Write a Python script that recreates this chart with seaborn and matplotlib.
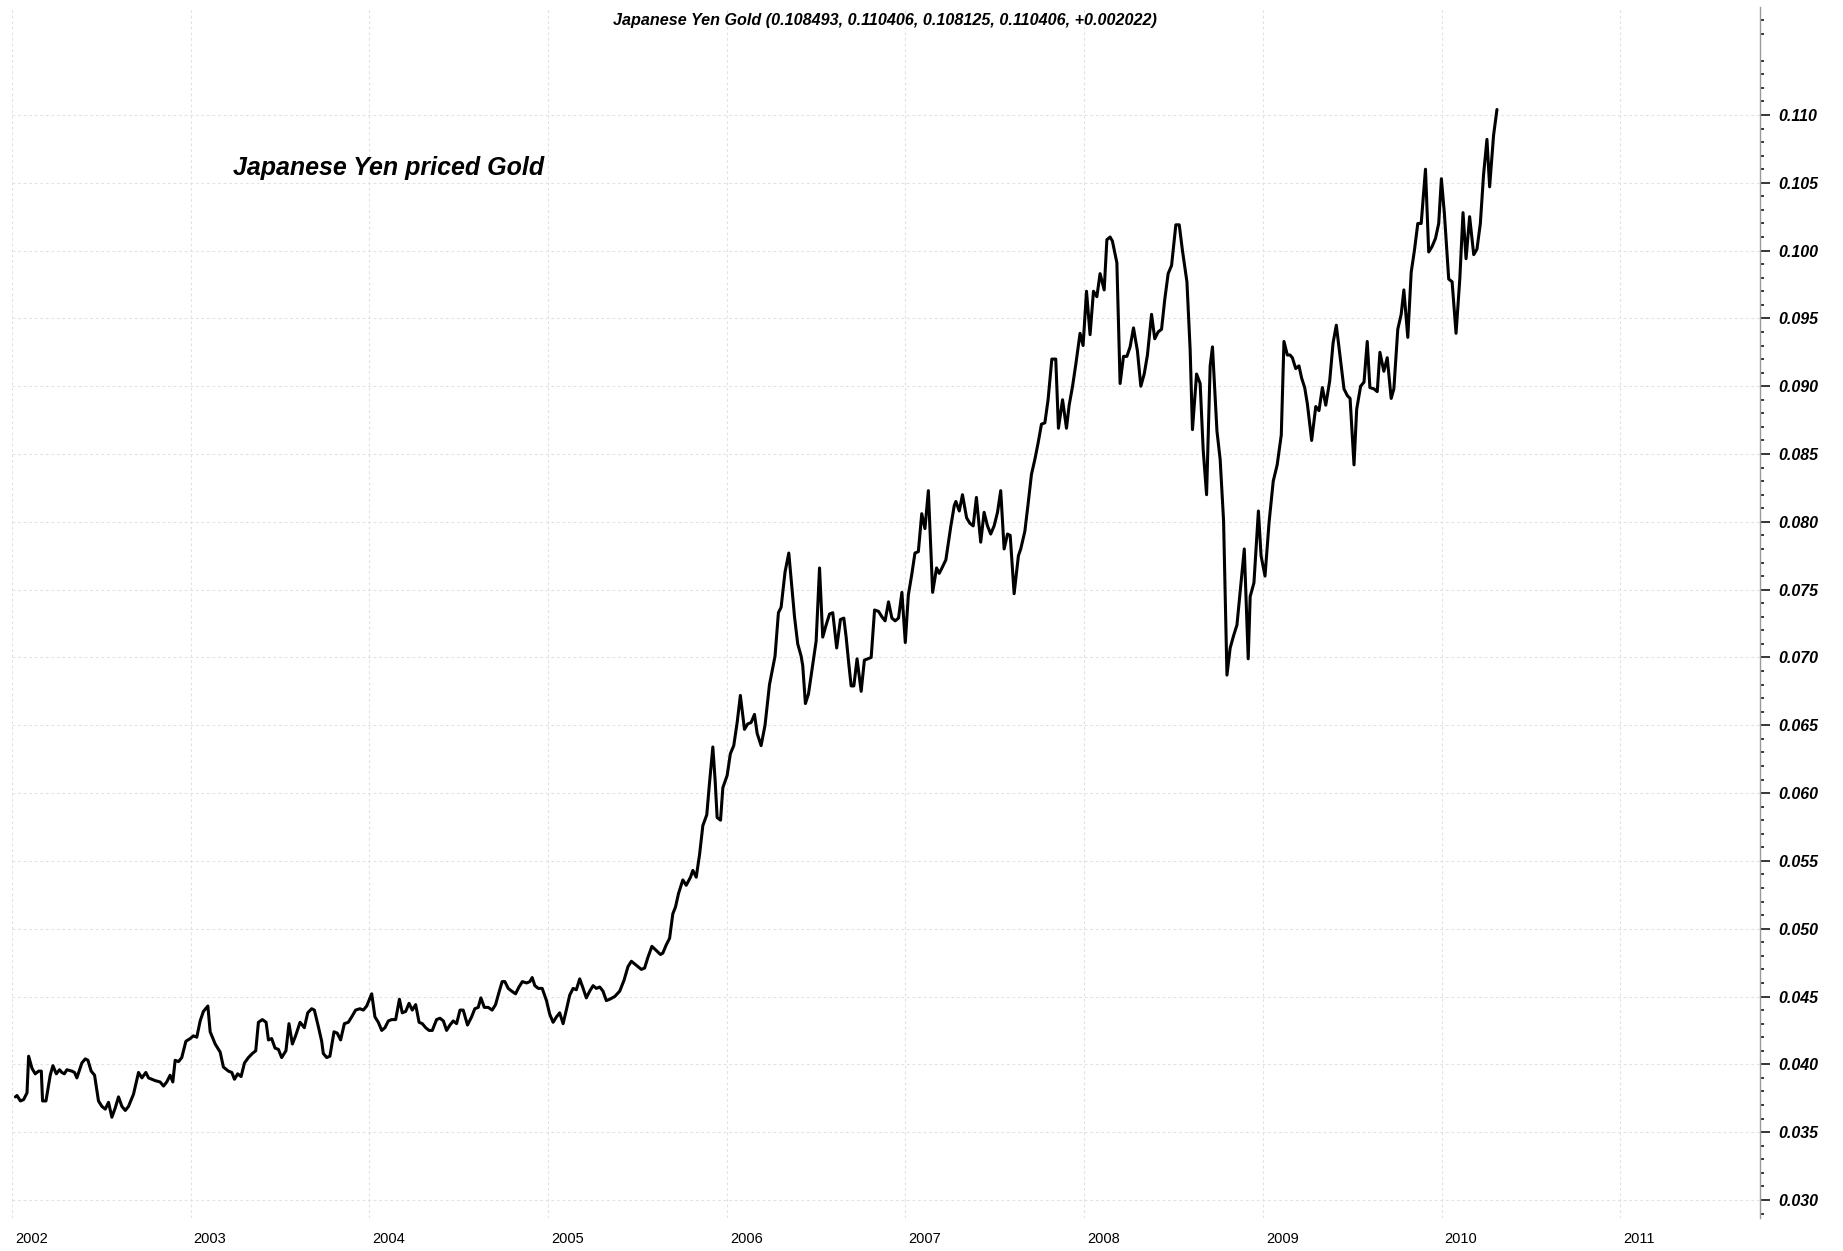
import numpy as np
import pandas as pd
import seaborn as sns
import matplotlib.pyplot as plt
from matplotlib import transforms
from matplotlib.ticker import FixedLocator

# weekly close, decimal year vs price
years_a = [2002.019, 2002.028, 2002.047, 2002.065, 2002.084, 2002.093, 2002.112, 2002.130, 2002.149, 2002.164,
           2002.171, 2002.190, 2002.214, 2002.229, 2002.248, 2002.266, 2002.279, 2002.293, 2002.307, 2002.335,
           2002.350, 2002.363, 2002.391, 2002.410, 2002.425, 2002.443, 2002.462, 2002.484, 2002.503, 2002.522,
           2002.540, 2002.559, 2002.578, 2002.596, 2002.615, 2002.634, 2002.652, 2002.680, 2002.708, 2002.727,
           2002.749, 2002.764, 2002.801, 2002.829, 2002.848, 2002.866, 2002.885, 2002.900, 2002.913, 2002.932,
           2002.950, 2002.973, 2002.997, 2003.015, 2003.034, 2003.053, 2003.071, 2003.096, 2003.109, 2003.137,
           2003.165, 2003.183, 2003.211, 2003.230, 2003.245, 2003.263, 2003.282, 2003.301, 2003.323, 2003.345,
           2003.364, 2003.379, 2003.401, 2003.422, 2003.435, 2003.453, 2003.472, 2003.491, 2003.509, 2003.533,
           2003.550, 2003.569, 2003.587, 2003.612, 2003.636, 2003.655, 2003.677, 2003.692, 2003.714, 2003.733,
           2003.742, 2003.761, 2003.779, 2003.802, 2003.820, 2003.839]
prices_a = [0.0376, 0.0377, 0.0373, 0.0374, 0.0379, 0.0406, 0.0397, 0.0393, 0.0395, 0.0395,
            0.0373, 0.0373, 0.0392, 0.0399, 0.0393, 0.0396, 0.0394, 0.0393, 0.0396, 0.0395,
            0.0394, 0.0390, 0.0401, 0.0404, 0.0403, 0.0395, 0.0392, 0.0373, 0.0369, 0.0367,
            0.0372, 0.0361, 0.0368, 0.0376, 0.0369, 0.0366, 0.0369, 0.0378, 0.0394, 0.0390,
            0.0394, 0.0390, 0.0388, 0.0387, 0.0384, 0.0387, 0.0392, 0.0387, 0.0403, 0.0402,
            0.0405, 0.0417, 0.0419, 0.0421, 0.0420, 0.0432, 0.0439, 0.0443, 0.0424, 0.0415,
            0.0409, 0.0398, 0.0395, 0.0394, 0.0389, 0.0393, 0.0391, 0.0401, 0.0405, 0.0408,
            0.0410, 0.0431, 0.0433, 0.0431, 0.0418, 0.0419, 0.0412, 0.0411, 0.0405, 0.0410,
            0.0430, 0.0415, 0.0421, 0.0431, 0.0427, 0.0438, 0.0441, 0.0440, 0.0428, 0.0417,
            0.0408, 0.0405, 0.0406, 0.0424, 0.0423, 0.0418]

years_b = [2003.860, 2003.882, 2003.901, 2003.923, 2003.947, 2003.966, 2003.985,
           2004.013, 2004.031, 2004.050, 2004.069, 2004.087, 2004.106, 2004.125, 2004.147, 2004.168, 2004.184,
           2004.203, 2004.222, 2004.240, 2004.259, 2004.278, 2004.296, 2004.315, 2004.334, 2004.352, 2004.376,
           2004.395, 2004.414, 2004.432, 2004.451, 2004.469, 2004.488, 2004.507, 2004.525, 2004.549, 2004.572,
           2004.590, 2004.609, 2004.624, 2004.643, 2004.665, 2004.687, 2004.706, 2004.725, 2004.743, 2004.758,
           2004.777, 2004.796, 2004.818, 2004.837, 2004.856, 2004.880, 2004.898, 2004.911, 2004.926, 2004.945,
           2004.967, 2004.991,
           2005.009, 2005.028, 2005.047, 2005.065, 2005.084, 2005.102, 2005.121, 2005.140, 2005.158, 2005.177,
           2005.196, 2005.214, 2005.233, 2005.252, 2005.270, 2005.289, 2005.307, 2005.326, 2005.345, 2005.373,
           2005.401, 2005.425, 2005.447, 2005.466, 2005.494]
prices_b = [0.0430, 0.0431, 0.0435, 0.0440, 0.0441, 0.0440, 0.0443,
            0.0452, 0.0435, 0.0431, 0.0425, 0.0427, 0.0432, 0.0433, 0.0433, 0.0448, 0.0438,
            0.0439, 0.0445, 0.0440, 0.0444, 0.0431, 0.0430, 0.0427, 0.0425, 0.0425, 0.0433,
            0.0434, 0.0432, 0.0425, 0.0429, 0.0432, 0.0430, 0.0440, 0.0440, 0.0429, 0.0435,
            0.0441, 0.0442, 0.0449, 0.0442, 0.0442, 0.0440, 0.0444, 0.0453, 0.0461, 0.0461,
            0.0456, 0.0454, 0.0452, 0.0457, 0.0461, 0.0460, 0.0461, 0.0464, 0.0458, 0.0456,
            0.0456, 0.0447,
            0.0437, 0.0431, 0.0435, 0.0438, 0.0430, 0.0440, 0.0451, 0.0456, 0.0455, 0.0463,
            0.0456, 0.0449, 0.0454, 0.0458, 0.0456, 0.0457, 0.0454, 0.0447, 0.0448, 0.0450,
            0.0454, 0.0462, 0.0472, 0.0476, 0.0473]

years_c = [2005.522, 2005.540, 2005.559, 2005.581, 2005.605, 2005.629, 2005.642, 2005.661, 2005.680, 2005.698,
           2005.713, 2005.730, 2005.754, 2005.773, 2005.797, 2005.810, 2005.829, 2005.848, 2005.866, 2005.888,
           2005.903, 2005.922, 2005.935, 2005.946, 2005.965, 2005.978,
           2006.002, 2006.020, 2006.039, 2006.058, 2006.076, 2006.099, 2006.117, 2006.136, 2006.155, 2006.170,
           2006.192, 2006.214, 2006.239, 2006.257, 2006.270, 2006.289, 2006.304, 2006.326, 2006.347]
prices_c = [0.0470, 0.0471, 0.0479, 0.0487, 0.0484, 0.0481, 0.0482, 0.0488, 0.0493, 0.0511,
            0.0516, 0.0526, 0.0536, 0.0532, 0.0538, 0.0543, 0.0538, 0.0555, 0.0576, 0.0584,
            0.0607, 0.0634, 0.0609, 0.0582, 0.0580, 0.0604,
            0.0613, 0.0629, 0.0635, 0.0652, 0.0672, 0.0647, 0.0651, 0.0652, 0.0658, 0.0644,
            0.0635, 0.0650, 0.0680, 0.0692, 0.0701, 0.0733, 0.0737, 0.0763, 0.0777]

years_d = [2006.379, 2006.397, 2006.416, 2006.425, 2006.440, 2006.457, 2006.476, 2006.500, 2006.519, 2006.537,
           2006.556, 2006.575, 2006.593, 2006.615, 2006.636, 2006.655, 2006.668, 2006.683, 2006.696, 2006.711,
           2006.729, 2006.752, 2006.770, 2006.789, 2006.808, 2006.827, 2006.849, 2006.868, 2006.886, 2006.905,
           2006.924, 2006.942, 2006.961, 2006.980, 2006.999,
           2007.016, 2007.035, 2007.053, 2007.072, 2007.091, 2007.109, 2007.128, 2007.152, 2007.174, 2007.189,
           2007.208, 2007.226]
prices_d = [0.0730, 0.0710, 0.0701, 0.0694, 0.0666, 0.0673, 0.0690, 0.0712, 0.0766, 0.0715,
            0.0724, 0.0732, 0.0733, 0.0707, 0.0728, 0.0729, 0.0715, 0.0695, 0.0679, 0.0679,
            0.0699, 0.0675, 0.0698, 0.0699, 0.0700, 0.0735, 0.0734, 0.0730, 0.0727, 0.0741,
            0.0729, 0.0727, 0.0729, 0.0748, 0.0711,
            0.0746, 0.0761, 0.0777, 0.0778, 0.0806, 0.0795, 0.0823, 0.0748, 0.0766, 0.0762,
            0.0767, 0.0772]

years_e = [2007.254, 2007.273, 2007.282, 2007.301, 2007.319, 2007.342, 2007.360, 2007.379, 2007.397, 2007.421,
           2007.440, 2007.459, 2007.477, 2007.496, 2007.515, 2007.533, 2007.552, 2007.571, 2007.586, 2007.608,
           2007.632, 2007.645, 2007.668, 2007.686, 2007.705, 2007.724, 2007.742, 2007.761, 2007.780, 2007.798,
           2007.819, 2007.841, 2007.856, 2007.879, 2007.901, 2007.916, 2007.935, 2007.953, 2007.977, 2007.994,
           2008.013, 2008.033, 2008.052, 2008.071, 2008.089, 2008.112, 2008.127, 2008.145, 2008.158, 2008.183,
           2008.201, 2008.220, 2008.239, 2008.257, 2008.276, 2008.298, 2008.317, 2008.336, 2008.354, 2008.377,
           2008.395, 2008.414, 2008.433, 2008.451, 2008.470, 2008.489, 2008.513, 2008.532, 2008.550, 2008.575,
           2008.593, 2008.606, 2008.629, 2008.649, 2008.666, 2008.685, 2008.705, 2008.718, 2008.743, 2008.761,
           2008.780, 2008.799, 2008.817, 2008.836, 2008.855, 2008.877, 2008.896, 2008.918, 2008.929]
prices_e = [0.0797, 0.0812, 0.0815, 0.0808, 0.0820, 0.0803, 0.0799, 0.0797, 0.0818, 0.0785,
            0.0807, 0.0797, 0.0791, 0.0797, 0.0807, 0.0823, 0.0780, 0.0791, 0.0790, 0.0747,
            0.0775, 0.0780, 0.0793, 0.0813, 0.0835, 0.0846, 0.0858, 0.0872, 0.0873, 0.0890,
            0.0920, 0.0920, 0.0869, 0.0890, 0.0869, 0.0886, 0.0900, 0.0916, 0.0939, 0.0930,
            0.0970, 0.0938, 0.0970, 0.0966, 0.0983, 0.0971, 0.1008, 0.1010, 0.1007, 0.0991,
            0.0902, 0.0922, 0.0922, 0.0929, 0.0943, 0.0926, 0.0900, 0.0909, 0.0923, 0.0953,
            0.0935, 0.0940, 0.0942, 0.0964, 0.0983, 0.0989, 0.1019, 0.1019, 0.1000, 0.0977,
            0.0927, 0.0868, 0.0909, 0.0902, 0.0853, 0.0820, 0.0915, 0.0929, 0.0867, 0.0846,
            0.0801, 0.0687, 0.0707, 0.0716, 0.0724, 0.0754, 0.0780, 0.0699, 0.0745]

years_f = [2008.950, 2008.975, 2008.990,
           2009.012, 2009.035, 2009.058, 2009.080, 2009.103, 2009.118, 2009.137, 2009.152, 2009.165, 2009.184,
           2009.202, 2009.217, 2009.234, 2009.249, 2009.273, 2009.296, 2009.314, 2009.333, 2009.352, 2009.374,
           2009.393, 2009.411, 2009.430, 2009.454, 2009.473, 2009.488, 2009.510, 2009.525, 2009.547, 2009.566,
           2009.584, 2009.599, 2009.622, 2009.640, 2009.655, 2009.677, 2009.696, 2009.718, 2009.733, 2009.755,
           2009.774, 2009.789, 2009.811, 2009.830, 2009.848, 2009.867, 2009.886, 2009.910, 2009.928, 2009.947,
           2009.966, 2009.984, 2009.999,
           2010.016, 2010.040, 2010.059, 2010.081, 2010.102, 2010.120, 2010.137, 2010.157, 2010.180, 2010.198,
           2010.217, 2010.235, 2010.254, 2010.269, 2010.291, 2010.310]
prices_f = [0.0755, 0.0808, 0.0775,
            0.0760, 0.0800, 0.0830, 0.0842, 0.0864, 0.0933, 0.0923, 0.0923, 0.0921, 0.0913,
            0.0915, 0.0906, 0.0899, 0.0887, 0.0860, 0.0885, 0.0882, 0.0899, 0.0886, 0.0904,
            0.0932, 0.0945, 0.0924, 0.0898, 0.0893, 0.0891, 0.0842, 0.0883, 0.0900, 0.0903,
            0.0933, 0.0899, 0.0898, 0.0896, 0.0925, 0.0911, 0.0921, 0.0891, 0.0898, 0.0942,
            0.0953, 0.0971, 0.0936, 0.0984, 0.1000, 0.1020, 0.1020, 0.1060, 0.0999, 0.1003,
            0.1009, 0.1020, 0.1053,
            0.1027, 0.0979, 0.0977, 0.0939, 0.0979, 0.1028, 0.0994, 0.1025, 0.0997, 0.1001,
            0.1020, 0.1056, 0.1082, 0.1047, 0.1085, 0.1104]

year_labels = [2002, 2003, 2004, 2005, 2006, 2007, 2008, 2009, 2010, 2011]
y_major = [0.030, 0.035, 0.040, 0.045, 0.050, 0.055, 0.060, 0.065, 0.070,
           0.075, 0.080, 0.085, 0.090, 0.095, 0.100, 0.105, 0.110]

title = "Japanese Yen Gold (0.108493, 0.110406, 0.108125, 0.110406, +0.002022)"
note = "Japanese Yen priced Gold"

years = years_a + years_b + years_c + years_d + years_e + years_f
prices = prices_a + prices_b + prices_c + prices_d + prices_e + prices_f
df = pd.DataFrame({"year": years, "price": prices})

sns.set_style("white")
plt.rcParams["font.family"] = ["Liberation Sans", "DejaVu Sans"]
plt.rcParams["text.color"] = "black"
plt.rcParams["xtick.color"] = "black"
plt.rcParams["ytick.color"] = "black"

W, H = 1843, 1251
fig = plt.figure(figsize=(W / 100, H / 100), dpi=100)
ax = fig.add_axes([12 / W, 33 / H, 1748 / W, 1211 / H])

sns.lineplot(data=df, x="year", y="price", ax=ax, color="black", linewidth=2.2,
             estimator=None, sort=False)

ax.set_xlim(2002.011, 2011.782)
ax.set_ylim(0.02867, 0.11796)
ax.set_xlabel("")
ax.set_ylabel("")

# right price axis
ax.yaxis.tick_right()
ax.set_yticks(y_major, [f"{v:.3f}" for v in y_major],
              fontsize=11.5, fontweight="bold", fontstyle="italic", color="black")
minor_y = [m / 1000 for m in range(29, 118) if m % 5 != 0]
ax.yaxis.set_minor_locator(FixedLocator(minor_y))
ax.tick_params(axis="y", which="major", length=7.5, width=1.1, color="black", pad=6)
ax.tick_params(axis="y", which="minor", length=3, width=1.1, color="black")

# time axis: yearly ticks + monthly minor ticks, labels drawn beside the tick
ax.set_xticks(year_labels)
months = [y + m / 12 for y in range(2002, 2012) for m in range(1, 12)]
ax.xaxis.set_minor_locator(FixedLocator(months))
ax.tick_params(axis="x", which="major", length=17, width=1.3, color="black", labelbottom=False)
ax.tick_params(axis="x", which="minor", length=3, width=1.1, color="black")

for side in ["left", "top"]:
    ax.spines[side].set_visible(False)
ax.spines["right"].set_color("#9a9a9a")
ax.spines["right"].set_linewidth(1)
ax.spines["bottom"].set_position(("outward", 5))
ax.spines["bottom"].set_visible(False)

ax.grid(True, which="major", axis="both", color="#e2e2e2",
        linestyle=(0, (2.5, 2.5)), linewidth=0.8)

trans = transforms.blended_transform_factory(ax.transData, ax.transAxes) + \
    transforms.ScaledTranslation(0.03, -0.14, fig.dpi_scale_trans)
for yr in year_labels:
    ax.text(yr, 0, str(yr), transform=trans, ha="left", va="top",
            fontsize=10.5, color="black", clip_on=False)

fig.text(0.480, 1 - 20 / H, title, ha="center", va="center",
         fontsize=11.6, fontweight="bold", fontstyle="italic", color="black")
fig.text(233 / W, 1 - 168 / H, note, ha="left", va="center",
         fontsize=18, fontweight="bold", fontstyle="italic", color="black")

fig.savefig("out.png", dpi=100)
